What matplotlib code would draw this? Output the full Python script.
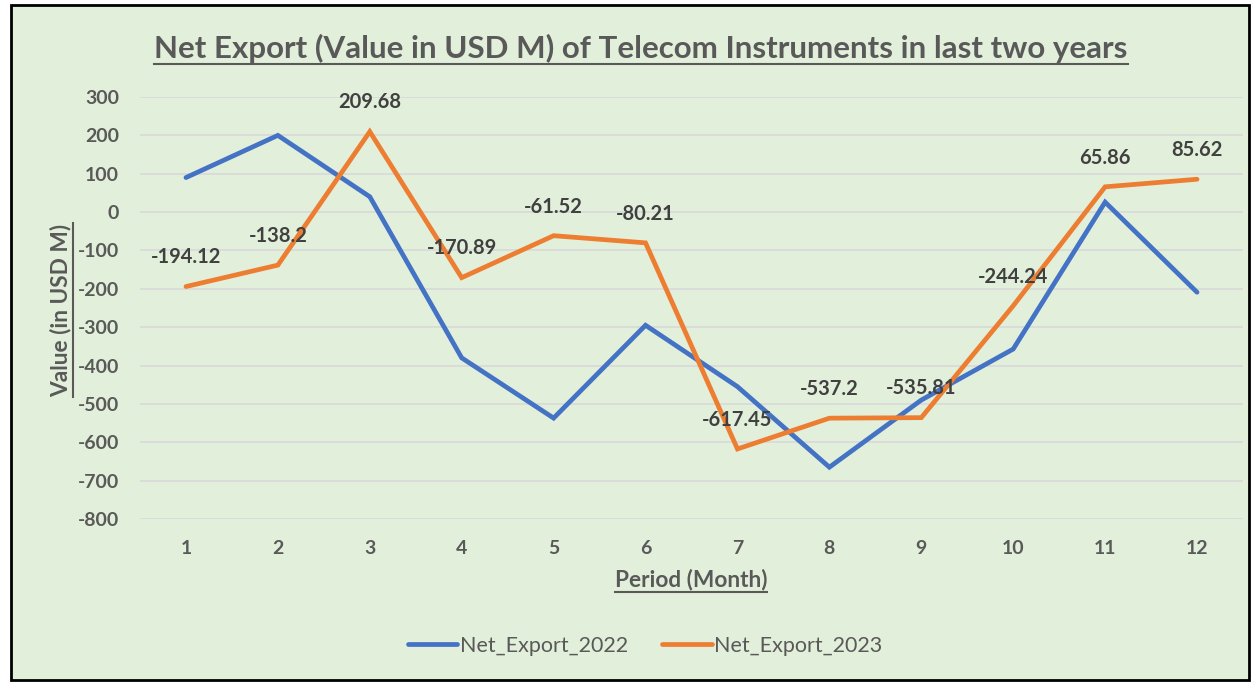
import matplotlib
matplotlib.use("Agg")
import matplotlib.pyplot as plt
from matplotlib.lines import Line2D
from matplotlib.patches import Rectangle

months = [1, 2, 3, 4, 5, 6, 7, 8, 9, 10, 11, 12]
net_export_2022 = [90, 200, 40, -380, -537, -295, -455, -665, -490, -357, 26, -209]
net_export_2023 = [-194.12, -138.2, 209.68, -170.89, -61.52, -80.21, -617.45, -537.2, -535.81, -244.24, 65.86, 85.62]
labels_2023 = ["-194.12", "-138.2", "209.68", "-170.89", "-61.52", "-80.21", "-617.45", "-537.2", "-535.81", "-244.24", "65.86", "85.62"]
y_ticks = [300, 200, 100, 0, -100, -200, -300, -400, -500, -600, -700, -800]

BG = "#E2EFDA"
TXT = "#595959"
BLUE = "#4472C4"
ORANGE = "#ED7D31"
FONT = "Lato"

fig = plt.figure(figsize=(12.52, 6.83), dpi=100)
fig.patch.set_facecolor("white")
# framed background
fig.patches.append(Rectangle((11/1252, 3/683), 1238/1252, 675/683, transform=fig.transFigure,
                             facecolor=BG, edgecolor="black", linewidth=2, zorder=-5))

ax = fig.add_axes([140/1252, 1 - 519/683, 1103/1252, 422/683])
ax.set_zorder(2)
ax.set_facecolor("none")
ax.plot(months, net_export_2022, color=BLUE, lw=3.4, solid_capstyle="round", solid_joinstyle="miter", label="Net_Export_2022", zorder=3)
ax.plot(months, net_export_2023, color=ORANGE, lw=3.4, solid_capstyle="round", solid_joinstyle="miter", label="Net_Export_2023", zorder=3)
for x, y, s in zip(months, net_export_2023, labels_2023):
    ax.annotate(s, (x, y), xytext=(0, 21), textcoords="offset points", ha="center", va="center",
                fontsize=14.5, fontweight="bold", color="#404040", family=FONT, zorder=4)

ax.set_xlim(0.5, 12.5)
ax.set_ylim(-800, 300)
ax.set_xticks(months)
ax.set_yticks(y_ticks)
ax.set_yticklabels([str(v) for v in y_ticks])
ax.grid(axis="y", color="#D9D9D9", lw=1.2, zorder=1)
ax.set_axisbelow(True)
for sp in ax.spines.values():
    sp.set_visible(False)
ax.tick_params(length=0, labelsize=14, labelcolor=TXT)
ax.tick_params(axis="y", pad=15)
ax.tick_params(axis="x", pad=15)
for lab in ax.get_xticklabels() + ax.get_yticklabels():
    lab.set_fontweight("bold")
    lab.set_family(FONT)

title = fig.text(641/1252, 1 - 48/683, "Net Export (Value in USD M) of Telecom Instruments in last two years",
                 ha="center", va="center", fontsize=22.5, fontweight="bold", color=TXT, family=FONT)
xlab = fig.text(691/1252, 1 - 580/683, "Period (Month)", ha="center", va="center",
                fontsize=16.3, fontweight="bold", color=TXT, family=FONT)
ylab = fig.text(61/1252, 1 - 310/683, "Value (in USD M)", ha="center", va="center", rotation=90,
                fontsize=16.3, fontweight="bold", color=TXT, family=FONT)

handles = [Line2D([], [], color=BLUE, lw=3.4, solid_capstyle="round"),
           Line2D([], [], color=ORANGE, lw=3.4, solid_capstyle="round")]
fig.legend(handles, ["Net_Export_2022", "Net_Export_2023"], loc="center", bbox_to_anchor=(645/1252, 1 - 646/683),
           ncol=2, frameon=False, prop={"family": FONT, "size": 15.5},
           labelcolor=TXT, handlelength=2.3, handletextpad=0.1, columnspacing=1.6)

fig.canvas.draw()
r = fig.canvas.get_renderer()
inv = fig.transFigure.inverted()
def underline(t, vertical=False):
    bb = t.get_window_extent(r)
    if not vertical:
        y = bb.y0 - 1
        (x0, yy), (x1, _) = inv.transform([(bb.x0, y), (bb.x1, y)])
        fig.add_artist(Line2D([x0, x1], [yy, yy], transform=fig.transFigure, color=TXT, lw=1.5))
    else:
        x = bb.x1 + 1
        (xx, y0), (_, y1) = inv.transform([(x, bb.y0), (x, bb.y1)])
        fig.add_artist(Line2D([xx, xx], [y0, y1], transform=fig.transFigure, color=TXT, lw=1.5))
underline(title)
underline(xlab)
underline(ylab, vertical=True)

fig.savefig("out.png", dpi=100, facecolor="white")
